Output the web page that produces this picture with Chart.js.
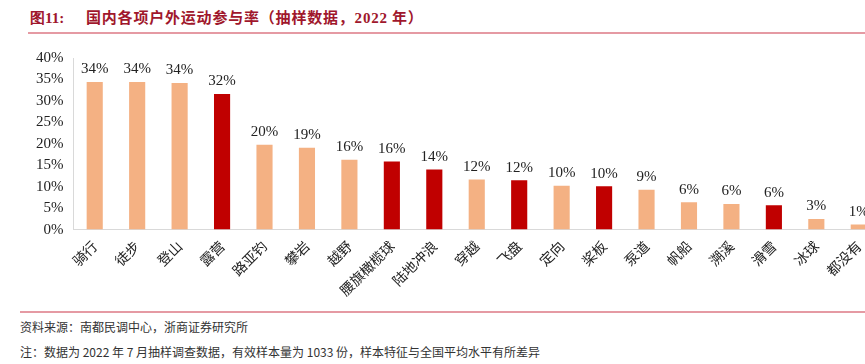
<!DOCTYPE html>
<html>
<head>
<meta charset="utf-8">
<script src="https://cdn.jsdelivr.net/npm/chart.js@4/dist/chart.umd.min.js"></script>
<style>
  html, body { margin: 0; padding: 0; background: #fff; }
  body { width: 865px; height: 364px; overflow: hidden; position: relative; font-family: "Noto Sans CJK SC", sans-serif; }
  #title { position: absolute; left: 30px; top: 6px; font-size: 15px; font-weight: bold; color: #A0172C; white-space: nowrap; }
  #title .num { font-family: "Liberation Serif", serif; }
  #title .txt { position: absolute; left: 56px; top: 0; letter-spacing: 0.8px; }
  #topline { position: absolute; left: 28px; top: 32px; width: 837px; height: 2px; background: #E59AA3; }
  #botline { position: absolute; left: 20px; top: 311px; width: 845px; height: 2px; background: #E59AA3; }
  .note { position: absolute; left: 20px; font-size: 12px; color: #333; white-space: nowrap; }
  #wrap { position: absolute; left: 0; top: 36px; width: 880px; height: 271px; }
</style>
</head>
<body>
<div id="title"><span class="num">图11:</span><span class="txt">国内各项户外运动参与率（抽样数据，<span class="num">2022</span> 年）</span></div>
<div id="topline"></div>
<div id="wrap"><canvas id="myChart" width="880" height="271"></canvas></div>
<div id="botline"></div>
<div class="note" style="top:318px">资料来源：南都民调中心，浙商证券研究所</div>
<div class="note" style="top:343px">注：数据为 2022 年 7 月抽样调查数据，有效样本量为 1033 份，样本特征与全国平均水平有所差异</div>

<script>
"use strict";

const SPORTS = ["骑行","徒步","登山","露营","路亚钓","攀岩","越野","腰旗橄榄球","陆地冲浪","穿越","飞盘","定向","桨板","泵道","帆船","溯溪","滑雪","冰球","都没有"];
const RATES = [34.4, 34.4, 34.2, 31.6, 19.8, 19.1, 16.3, 15.9, 14.0, 11.7, 11.5, 10.2, 10.1, 9.3, 6.4, 6.0, 5.7, 2.5, 1.2];
const HIGHLIGHT = ["露营","腰旗橄榄球","陆地冲浪","飞盘","桨板","滑雪"];
const Y_MAX = 40;
const Y_STEP = 5;

const PEACH = "#F4B183";
const RED = "#C00000";

document.addEventListener("DOMContentLoaded", init);

function init()
{
    // value labels above the bars
    const valueLabels = {
        id: "valueLabels",
        afterDatasetsDraw(chart) {
            const ctx = chart.ctx;
            const meta = chart.getDatasetMeta(0);
            ctx.save();
            ctx.font = "15px 'Liberation Serif', serif";
            ctx.fillStyle = "#222";
            ctx.textAlign = "center";
            ctx.textBaseline = "bottom";
            meta.data.forEach((bar, i) => {
                ctx.fillText(Math.round(RATES[i]) + "%", bar.x, bar.y - 5);
            });
            ctx.restore();
        }
    };

    const colors = SPORTS.map(s => HIGHLIGHT.includes(s) ? RED : PEACH);

    new Chart(document.getElementById("myChart"), {
        type: "bar",
        data: {
            labels: SPORTS,
            datasets: [{
                data: RATES,
                backgroundColor: colors,
                borderWidth: 0,
                barPercentage: 0.38,
                categoryPercentage: 1
            }]
        },
        options: {
            responsive: false,
            animation: false,
            layout: { padding: { top: 22, left: 26, right: 0, bottom: 0 } },
            plugins: { legend: { display: false }, tooltip: { enabled: false } },
            scales: {
                x: {
                    grid: { display: false, drawTicks: false },
                    border: { color: "#d9d9d9" },
                    ticks: {
                        color: "#222",
                        font: { size: 14, family: "'Noto Sans CJK SC', sans-serif" },
                        minRotation: 45,
                        maxRotation: 45,
                        autoSkip: false,
                        padding: 8
                    }
                },
                y: {
                    min: 0,
                    max: Y_MAX,
                    grid: { display: false, drawTicks: false },
                    border: { color: "#d9d9d9" },
                    ticks: {
                        stepSize: Y_STEP,
                        color: "#222",
                        padding: 10,
                        font: { size: 15, family: "'Liberation Serif', serif" },
                        callback: v => v + "%"
                    }
                }
            }
        },
        plugins: [valueLabels]
    });
}
</script>
</body>
</html>
